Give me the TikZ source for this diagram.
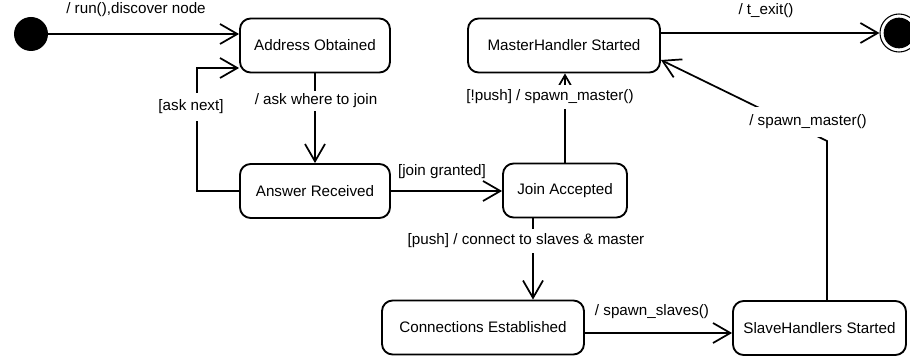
\documentclass[tikz,border=0pt]{standalone}
\usepackage{fontspec}
\setmainfont{Liberation Sans}
\usetikzlibrary{arrows.meta,calc}
\begin{document}
\begin{tikzpicture}[x=0.75pt,y=-0.75pt,
  font=\fontsize{11.4}{13.5}\selectfont,
  state/.style={draw, line width=1.4pt, rounded corners=8pt, minimum height=40.5pt, inner sep=0pt, align=center},
  trans/.style={line width=1.3pt, -{Straight Barb[length=13pt,width=15pt]}},
  lbl/.style={inner sep=1pt},
  gap/.style={fill=white, inner sep=2pt}]
\clip (0,0) rectangle (910,356);

% initial and final pseudo-states
\node[circle, fill=black, minimum size=25.5pt, inner sep=0pt] (start) at (31,34) {};
\node[circle, draw, line width=0.8pt, minimum size=28.5pt, inner sep=0pt] (final) at (899,33) {};
\node[circle, fill=black, minimum size=23pt, inner sep=0pt] (finaldot) at (final) {};

% states
\node[state, minimum width=112.5pt] (AO) at (315,45.5) {Address Obtained};
\node[state, minimum width=112.5pt] (AR) at (315,191) {Answer Received};
\node[state, minimum width=144pt] (MH) at (564,45.5) {MasterHandler Started};
\node[state, minimum width=93pt] (JA) at (565,190.5) {Join Accepted};
\node[state, minimum width=151.5pt] (CE) at (483,327.5) {Connections Established};
\node[state, minimum width=129.75pt] (SH) at (819.5,328) {SlaveHandlers Started};

% helper points
\coordinate (loop) at (197,68);
\coordinate (bend) at (827,141);
\coordinate (mhin) at ($(MH.east)+(0,14.5)$);
\coordinate (mhout) at ($(MH.east)+(0,-12.5)$);
\coordinate (jaout) at ($(JA.south)+(-32,0)$);
\coordinate (ceout) at ($(CE.east)+(0,5.5)$);

% transitions
\draw[trans] (start) -- (start -| AO.west);
\draw[trans] (AO.south) -- (AR.north);
\draw[trans] (AR.west) -| (loop) -- (loop -| AO.west);
\draw[trans] (AR.east) -- (AR.east -| JA.west);
\draw[trans] (JA.north) -- (JA.north |- MH.south);
\draw[trans] (jaout) -- (jaout |- CE.north);
\draw[trans] (ceout) -- (ceout -| SH.west);
\draw[trans] (bend |- SH.north) -- (bend) -- (mhin);
\draw[trans] (mhout) -- (mhout -| final.west);

% transition labels
\node[lbl] (l1) at (136,10) {/ run(),discover node};
\node[gap] (l2) at (316,101) {/ ask where to join};
\node[gap, inner ysep=5pt] (l3) at (191,107) {[ask next]};
\node[lbl] (l4) at (442,172) {[join granted]};
\node[gap, inner ysep=4pt] (l5) at (550,97) {[!push] / spawn\_master()};
\node[gap, inner ysep=4pt] (l6) at (526,241) {[push] / connect to slaves \& master};
\node[lbl] (l7) at (652,312) {/ spawn\_slaves()};
\node[gap, inner ysep=6pt] (l8) at (808,122) {/ spawn\_master()};
\node[lbl] (l9) at (766,11) {/ t\_exit()};
\end{tikzpicture}
\end{document}
